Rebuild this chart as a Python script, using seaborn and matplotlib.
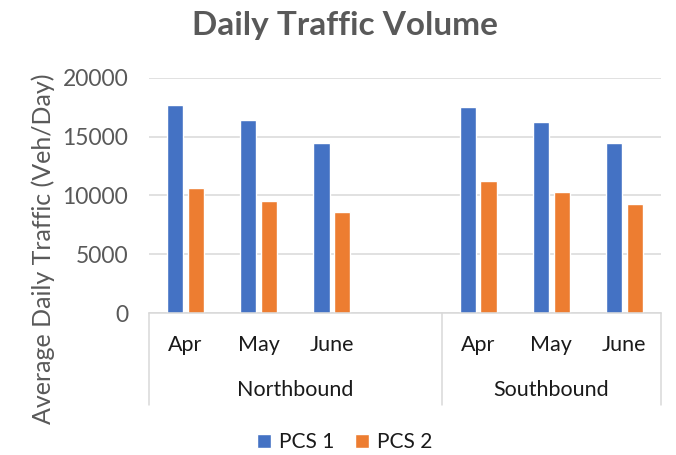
import matplotlib
matplotlib.use("Agg")
import matplotlib.pyplot as plt
import matplotlib.transforms as mtransforms
import seaborn as sns
import pandas as pd

# ---- data ----
directions = ["Northbound", "Southbound"]
months = ["Apr", "May", "June"]
pcs1_north = [17650, 16400, 14450]
pcs1_south = [17500, 16200, 14450]
pcs2_north = [10600, 9500, 8600]
pcs2_south = [11200, 10300, 9300]
series_names = ["PCS 1", "PCS 2"]
yticks = [0, 5000, 10000, 15000, 20000]

rows = []
for d, p1, p2 in [("Northbound", pcs1_north, pcs2_north), ("Southbound", pcs1_south, pcs2_south)]:
    for m, v1, v2 in zip(months, p1, p2):
        rows.append({"slot": f"{d}|{m}", "series": "PCS 1", "value": v1})
        rows.append({"slot": f"{d}|{m}", "series": "PCS 2", "value": v2})
df = pd.DataFrame(rows)

# Northbound has an empty fourth slot (as in the source chart)
order = [f"Northbound|{m}" for m in months] + ["Northbound|"] + [f"Southbound|{m}" for m in months]
slot_labels = [s.split("|")[1] for s in order]

sns.set_theme(style="white")
plt.rcParams["font.family"] = ["Lato", "DejaVu Sans"]

fig = plt.figure(figsize=(6.76, 4.55), dpi=100)
ax = fig.add_axes([149/676, 1-313/455, (661-149)/676, (313-77.7)/455])

palette = {"PCS 1": "#4472C4", "PCS 2": "#ED7D31"}
sns.barplot(data=df, x="slot", y="value", hue="series", order=order,
            hue_order=series_names, palette=palette, width=0.57, gap=0.22,
            saturation=1, ax=ax, legend=True)

ax.set_ylim(0, 20000)
ax.set_yticks(yticks)
ax.set_yticklabels([str(t) for t in yticks], fontsize=16.5, color="#595959")
ax.set_xlim(-0.5, len(order) - 0.5)
ax.yaxis.grid(True, color="#D9D9D9", lw=1.1)
ax.set_axisbelow(True)
for s in ["top", "right", "left"]:
    ax.spines[s].set_visible(False)
ax.spines["bottom"].set_color("#D9D9D9")
ax.spines["bottom"].set_linewidth(1.1)
ax.tick_params(axis="y", length=0, pad=15)
ax.tick_params(axis="x", length=0)
ax.set_xticks(range(len(order)))
ax.set_xticklabels([])
ax.set_xlabel("")
ax.set_ylabel("")

fig.text(43/676, 1-249/455, "Average Daily Traffic (Veh/Day)", rotation=90,
         ha="center", va="center", fontsize=18, color="#595959")

trans = mtransforms.blended_transform_factory(ax.transData, ax.transAxes)
for i, lab in enumerate(slot_labels):
    ax.text(i, -0.136, lab, transform=trans, ha="center", va="center", fontsize=15.5, color="#1a1a1a")
ax.text(1.5, -0.327, "Northbound", transform=trans, ha="center", va="center", fontsize=15.5, color="#1a1a1a")
ax.text(5.0, -0.327, "Southbound", transform=trans, ha="center", va="center", fontsize=15.5, color="#1a1a1a")
for xv in [-0.5, 3.5, 6.5]:
    ax.plot([xv, xv], [0, -0.39], transform=trans, color="#D9D9D9", lw=1.1, clip_on=False)

handles, labels = ax.get_legend_handles_labels()
ax.get_legend().remove()
fig.legend(handles, labels, loc="center", bbox_to_anchor=(345/676, 1-442/455), ncol=2,
           frameon=False, fontsize=15, handlelength=0.65, handleheight=0.65,
           handletextpad=0.4, columnspacing=1.0, labelcolor="#1a1a1a")

fig.text(345/676, 1-25/455, "Daily Traffic Volume", ha="center", va="center",
         fontsize=24, fontweight="bold", color="#595959")

fig.savefig("out.png", dpi=100)
